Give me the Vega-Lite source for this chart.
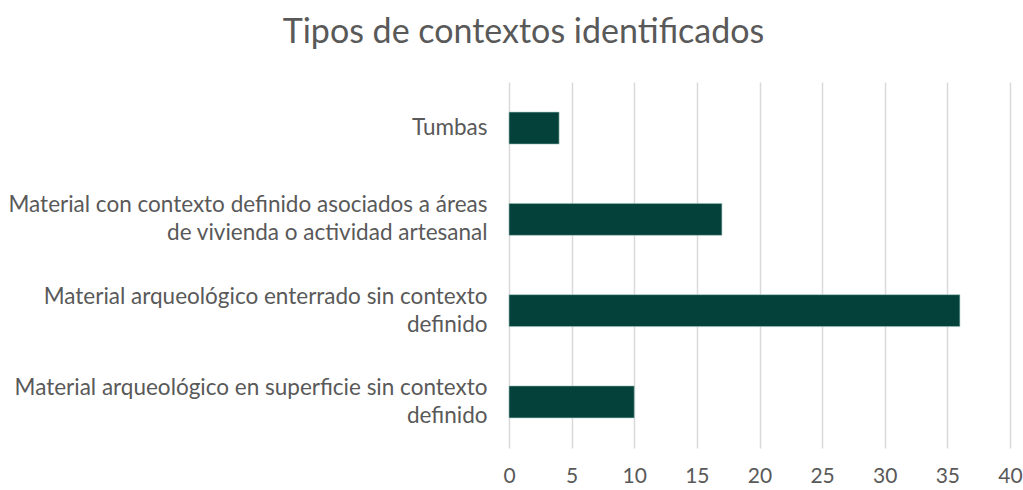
{
  "$schema": "https://vega.github.io/schema/vega-lite/v6.json",
  "width": 501,
  "height": 366,
  "autosize": {"type": "none"},
  "padding": {"left": 509, "top": 82, "right": 13, "bottom": 42},
  "background": "white",
  "title": {
    "text": "Tipos de contextos identificados",
    "font": "Lato",
    "fontSize": 34,
    "fontWeight": "normal",
    "color": "#595959",
    "anchor": "middle",
    "frame": "group",
    "dx": -236,
    "offset": 32
  },
  "data": {
    "values": [
      {"tipo": "Tumbas", "n": 4, "orden": 1},
      {"tipo": "Material con contexto definido asociados a áreas|de vivienda o actividad artesanal", "n": 17, "orden": 2},
      {"tipo": "Material arqueológico enterrado sin contexto|definido", "n": 36, "orden": 3},
      {"tipo": "Material arqueológico  en superficie sin contexto|definido", "n": 10, "orden": 4}
    ]
  },
  "mark": {"type": "bar", "color": "#03413A", "stroke": "#9fc4bd", "strokeWidth": 0.6},
  "encoding": {
    "y": {
      "field": "tipo",
      "type": "nominal",
      "sort": {"field": "orden", "order": "ascending"},
      "scale": {"paddingInner": 0.65, "paddingOuter": 0.33},
      "axis": {
        "title": null,
        "domain": false,
        "ticks": false,
        "labelExpr": "split(datum.label, '|')",
        "labelFont": "Lato",
        "labelFontSize": 22.5,
        "labelColor": "#595959",
        "labelPadding": 22,
        "labelAlign": "right",
        "labelLimit": 600,
        "labelLineHeight": 28,
        "labelOffset": {"condition": {"test": "datum.value != 'Tumbas'", "value": -14}, "value": 0}
      }
    },
    "x": {
      "field": "n",
      "type": "quantitative",
      "scale": {"domain": [0, 40], "nice": false},
      "axis": {
        "title": null,
        "values": [0, 5, 10, 15, 20, 25, 30, 35, 40],
        "domain": false,
        "ticks": false,
        "grid": true,
        "gridColor": "#d9d9d9",
        "gridWidth": 1.5,
        "labelFont": "Lato",
        "labelFontSize": 21,
        "labelColor": "#595959",
        "labelPadding": 17,
        "labelFlush": false
      }
    }
  },
  "config": {"view": {"stroke": null}}
}
